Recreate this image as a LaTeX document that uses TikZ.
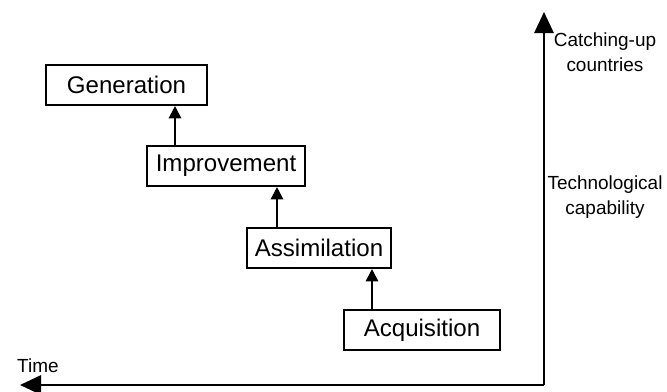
\documentclass[tikz,border=0pt]{standalone}
\usepackage{fontspec}
\setmainfont{Liberation Sans}
\usetikzlibrary{arrows.meta}
\begin{document}
\begin{tikzpicture}[x=0.02cm,y=-0.02cm,
  stage/.style={draw,line width=1.2pt,minimum height=40*0.02cm,inner sep=0pt,font=\fontsize{13.7}{16}\selectfont},
  up/.style={-{Triangle[length=7pt,width=7pt]},line width=1.3pt},
  axislabel/.style={align=center,font=\fontsize{10.8}{14}\selectfont}]
\useasboundingbox (0,0) rectangle (667,392);
% capability stages
\node[stage,minimum width=161*0.02cm] (gen) at (126.5,85) {Generation};
\node[stage,minimum width=158*0.02cm] (imp) at (226,166) {Improvement};
\node[stage,minimum width=144*0.02cm] (ass) at (319,248) {Assimilation};
\node[stage,minimum width=156*0.02cm] (acq) at (422,330) {Acquisition};
% steps between stages
\draw[up] (imp.north -| 175,0) -- (gen.south -| 175,0);
\draw[up] (ass.north -| 277,0) -- (imp.south -| 277,0);
\draw[up] (acq.north -| 372,0) -- (ass.south -| 372,0);
% axes
\coordinate (origin) at (544,385);
\coordinate (ytip) at (544,12);
\coordinate (xtip) at (20,385);
\draw[line width=1.3pt,-{Triangle[length=12pt,width=11pt]}] (origin) -- (ytip);
\draw[line width=1.3pt,-{Triangle[length=12pt,width=11pt]}] (origin) -- (xtip);
\node[axislabel] (catch) at (605,52) {Catching-up\\countries};
\node[axislabel] (tech) at (605,197) {Technological\\capability};
\node[axislabel,anchor=west] (time) at (11,366) {Time};
\end{tikzpicture}
\end{document}
